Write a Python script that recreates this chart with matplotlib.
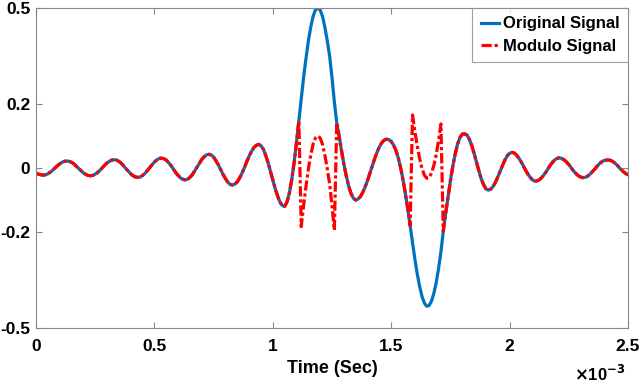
import numpy as np
import matplotlib
matplotlib.use("Agg")
import matplotlib.pyplot as plt

original = [
    -0.016, -0.019, -0.021, -0.022, -0.021, -0.018, -0.013, -0.007, 0.000, 0.007,
    0.013, 0.018, 0.021, 0.022, 0.021, 0.018, 0.013, 0.006, -0.001, -0.008,
    -0.015, -0.020, -0.023, -0.024, -0.023, -0.019, -0.014, -0.007, 0.001, 0.009,
    0.016, 0.021, 0.025, 0.026, 0.025, 0.021, 0.015, 0.007, -0.002, -0.010,
    -0.018, -0.024, -0.028, -0.029, -0.028, -0.023, -0.017, -0.008, 0.001, 0.010,
    0.019, 0.025, 0.030, 0.031, 0.029, 0.025, 0.017, 0.008, -0.003, -0.014,
    -0.023, -0.031, -0.035, -0.037, -0.035, -0.029, -0.021, -0.009, 0.003, 0.015,
    0.027, 0.035, 0.041, 0.043, 0.041, 0.034, 0.023, 0.010, -0.005, -0.020,
    -0.033, -0.044, -0.051, -0.053, -0.050, -0.043, -0.031, -0.016, 0.001, 0.020,
    0.037, 0.052, 0.064, 0.071, 0.074, 0.070, 0.059, 0.040, 0.017, -0.010,
    -0.037, -0.064, -0.087, -0.106, -0.117, -0.120, -0.106, -0.078, -0.036, 0.017,
    0.080, 0.148, 0.217, 0.283, 0.342, 0.396, 0.440, 0.474, 0.494, 0.500,
    0.494, 0.474, 0.440, 0.398, 0.350, 0.283, 0.206, 0.142, 0.100, 0.055,
    0.013, -0.024, -0.055, -0.079, -0.094, -0.100, -0.097, -0.089, -0.076, -0.059,
    -0.039, -0.016, 0.006, 0.029, 0.049, 0.066, 0.079, 0.087, 0.090, 0.089,
    0.083, 0.072, 0.055, 0.031, 0.000, -0.037, -0.080, -0.128, -0.180, -0.234,
    -0.285, -0.331, -0.370, -0.401, -0.422, -0.432, -0.430, -0.416, -0.392, -0.358,
    -0.314, -0.262, -0.197, -0.142, -0.090, -0.040, 0.005, 0.043, 0.074, 0.095,
    0.106, 0.107, 0.103, 0.090, 0.071, 0.046, 0.019, -0.008, -0.033, -0.052,
    -0.065, -0.069, -0.066, -0.058, -0.045, -0.028, -0.010, 0.008, 0.025, 0.038,
    0.046, 0.049, 0.047, 0.040, 0.030, 0.018, 0.004, -0.010, -0.022, -0.032,
    -0.039, -0.041, -0.039, -0.034, -0.026, -0.016, -0.005, 0.007, 0.017, 0.025,
    0.030, 0.032, 0.030, 0.026, 0.019, 0.011, 0.001, -0.009, -0.017, -0.024,
    -0.028, -0.030, -0.029, -0.025, -0.019, -0.011, -0.003, 0.006, 0.014, 0.020,
    0.024, 0.025, 0.025, 0.023, 0.018, 0.012, 0.004, -0.004, -0.011, -0.017,
    -0.021,
]
lam = 0.2  # modulo threshold
t_end = 2.5e-3

xticks = [0, 0.5e-3, 1e-3, 1.5e-3, 2e-3, 2.5e-3]
xticklabels = ["0", "0.5", "1", "1.5", "2", "2.5"]
yticks = [-0.5, -0.2, 0, 0.2, 0.5]
yticklabels = ["-0.5", "-0.2", "0", "0.2", "0.5"]

plt.rcParams['font.family'] = ['Liberation Sans', 'DejaVu Sans']
plt.rcParams['font.weight'] = 'bold'

x = np.array(original)
t = np.linspace(0, t_end, len(x))
x_mod = np.mod(x + lam, 2 * lam) - lam

fig = plt.figure(figsize=(6.4, 3.85), dpi=100)
ax = fig.add_axes([0.05625, 0.148, 0.925, 0.831])

ax.plot(t, x, color=(0, 0.447, 0.741), lw=2.3, label='Original Signal')
ax.plot(t, x_mod, color='red', lw=2.3, dashes=(3.2, 0.9, 1.0, 0.9),
        label='Modulo Signal')

ax.set_xlim(0, t_end)
ax.set_ylim(-0.5, 0.5)
ax.set_xticks(xticks)
ax.set_xticklabels(xticklabels)
ax.set_yticks(yticks)
ax.set_yticklabels(yticklabels)
ax.tick_params(direction='in', length=4, width=0.8, color='#888888',
               labelsize=12.5, top=True, right=True)
ax.tick_params(axis='y', pad=4)
ax.tick_params(axis='x', pad=8)
for s in ax.spines.values():
    s.set_color('#888888')
    s.set_linewidth(0.8)

ax.set_xlabel('Time (Sec)', fontsize=13, fontweight='bold', labelpad=4)
fig.text(0.978, 0.002, r'$\times$10$^{-3}$', fontsize=12, ha='right', va='bottom')

leg = ax.legend(loc='upper right', fontsize=12, frameon=True, fancybox=False,
                handlelength=1.1, handletextpad=0.25, borderaxespad=0,
                borderpad=0.5, labelspacing=0.45)
leg.get_frame().set_edgecolor('#888888')
leg.get_frame().set_linewidth(0.8)

fig.savefig('out.png', dpi=100)
